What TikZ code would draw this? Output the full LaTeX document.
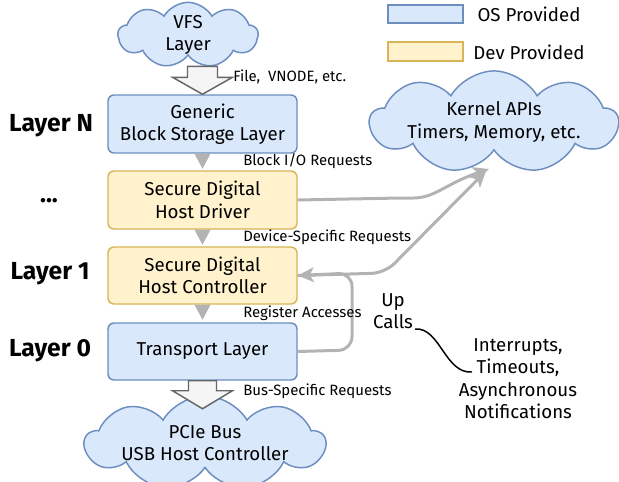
\documentclass[tikz,border=0pt]{standalone}
\usepackage{fontspec}
\setmainfont{Fira Sans}
\usetikzlibrary{shapes.symbols,arrows.meta,calc}
\definecolor{osfill}{HTML}{DAE8FC}
\definecolor{osdraw}{HTML}{6C8EBF}
\definecolor{devfill}{HTML}{FFF2CC}
\definecolor{devdraw}{HTML}{D6B656}
\definecolor{conn}{HTML}{B3B3B3}
\definecolor{bigfill}{HTML}{F5F5F5}
\definecolor{bigdraw}{HTML}{666666}
\begin{document}
\begin{tikzpicture}[x=0.75pt,y=-0.75pt,
  bodyfont/.style={font=\fontsize{14}{16.9}\selectfont},
  smallfont/.style={font=\fontsize{11.2}{13}\selectfont},
  layerlabel/.style={font=\fontsize{18.5}{20}\selectfont\bfseries},
  box/.style={rounded corners=4.5pt, line width=1.1pt, minimum width=141.75pt, align=center, bodyfont, inner sep=0pt},
  osbox/.style={box, fill=osfill, draw=osdraw},
  devbox/.style={box, fill=devfill, draw=devdraw},
  cloudbox/.style={cloud, cloud puffs=9, cloud puff arc=120, cloud ignores aspect, fill=osfill, draw=osdraw, line width=1.1pt, align=center, bodyfont, inner sep=0pt},
  tri/.style={fill=conn},
  bigarrow/.style={fill=bigfill, draw=bigdraw, line width=1.1pt, line join=miter},
  connector/.style={draw=conn, line width=2.25pt, rounded corners=10pt, -{Stealth[length=12pt,width=11pt,inset=3pt]}},
  slabel/.style={smallfont, anchor=west, inner sep=0pt},
]
\useasboundingbox (0,0) rectangle (619,482);

% legend
\node[fill=osfill, draw=osdraw, line width=1.1pt, minimum width=56.25pt, minimum height=13.5pt, inner sep=0pt] (legos) at (425.5,14) {};
\node[fill=devfill, draw=devdraw, line width=1.1pt, minimum width=56.25pt, minimum height=14.25pt, inner sep=0pt] (legdev) at (425.5,51.5) {};
\node[bodyfont] (legostxt) at (529,14) {OS Provided};
\node[bodyfont] (legdevtxt) at (529,52) {Dev Provided};

% clouds
\node[cloudbox, minimum width=105pt, minimum height=44pt] (vfs) at (188,35) {VFS\\Layer};
\node[cloudbox, minimum width=186pt, minimum height=64.5pt] (kern) at (494,122) {Kernel APIs\\Timers, Memory, etc.};
\node[cloudbox, minimum width=180pt, minimum height=54pt] (pcie) at (205,443) {PCIe Bus\\USB Host Controller};

% boxes
\node[osbox, minimum height=43.5pt] (gen) at (202.5,124) {Generic\\Block Storage Layer};
\node[devbox, minimum height=43.5pt] (drv) at (202.5,200) {Secure Digital\\Host Driver};
\node[devbox, minimum height=42.75pt] (ctl) at (202.5,275.5) {Secure Digital\\Host Controller};
\node[osbox, minimum height=42.75pt] (tr) at (202.5,351.5) {Transport Layer};

% layer labels
\node[layerlabel] (ln) at (51,126) {Layer N};
\node[layerlabel] (ldots) at (49,201) {...};
\node[layerlabel] (l1) at (50,274) {Layer 1};
\node[layerlabel] (l0) at (50,351) {Layer 0};

% big arrows
\draw[bigarrow] ($(gen.north)+(-15,-28)$) -- ($(gen.north)+(15,-28)$) -- ($(gen.north)+(15,-17)$) -- ($(gen.north)+(30,-17)$) -- (gen.north) -- ($(gen.north)+(-30,-17)$) -- ($(gen.north)+(-15,-17)$) -- cycle;
\draw[bigarrow] ($(tr.south)+(-14,0)$) -- ($(tr.south)+(14,0)$) -- ($(tr.south)+(14,10)$) -- ($(tr.south)+(30,10)$) -- ($(tr.south)+(0,28)$) -- ($(tr.south)+(-30,10)$) -- ($(tr.south)+(-14,10)$) -- cycle;

% small triangles
\fill[tri] ($(gen.south)+(-8,0)$) -- ($(gen.south)+(8,0)$) -- ($(gen.south)+(0,15)$) -- cycle;
\fill[tri] ($(drv.south)+(-8,0)$) -- ($(drv.south)+(8,0)$) -- ($(drv.south)+(0,15)$) -- cycle;
\fill[tri] ($(ctl.south)+(-8,0)$) -- ($(ctl.south)+(8,0)$) -- ($(ctl.south)+(0,15)$) -- cycle;

% connectors
\coordinate (k1) at (489,169);
\coordinate (k2) at (486,171);
\draw[connector] (drv.east) -- (400,198) .. controls (435,198) and (445,184) .. (k1);
\draw[connector] (ctl.east) -- (385,273) -- (k2);
\draw[connector] (tr.east) -- (352,350) -- (352,273) -- (ctl.east);

% small labels
\node[slabel] (lfile) at (233,77) {File,\ \ VNODE, etc.};
\node[slabel] (lblock) at (243,161) {Block I/O Requests};
\node[slabel] (ldev) at (243,237) {Device-Specific Requests};
\node[slabel] (lreg) at (243,313) {Register Accesses};
\node[slabel] (lbus) at (243,391) {Bus-Specific Requests};

% up calls
\node[bodyfont, align=center] (upc) at (393,311) {Up\\Calls};
\node[bodyfont, align=center] (intr) at (518,378.5) {Interrupts,\\Timeouts,\\Asynchronous\\Notifications};
\coordinate (c1) at (415,329);
\coordinate (c2) at (472,372);
\draw[line width=1.1pt] (c1) .. controls (440,327) and (445,374) .. (c2);
\end{tikzpicture}
\end{document}
